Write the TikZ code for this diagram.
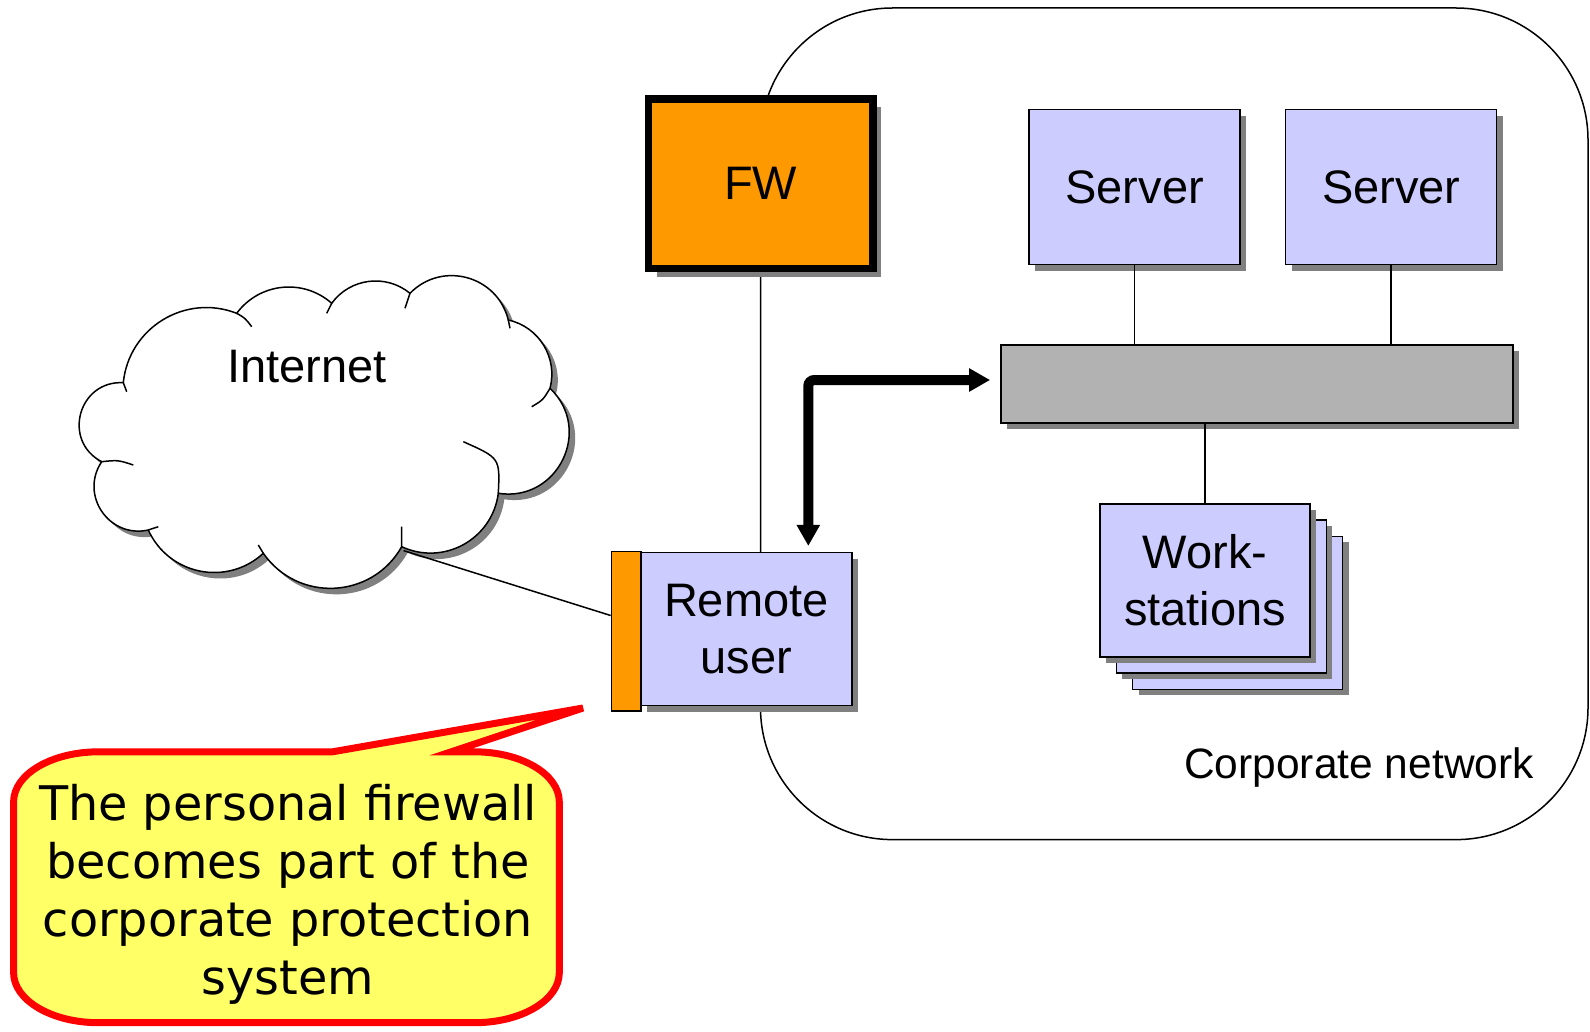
\documentclass[tikz,border=0pt]{standalone}
\usepackage{fontspec}
\setmainfont{Liberation Sans}
\newfontfamily\callfont{DejaVu Sans}
\usetikzlibrary{shadows,arrows.meta,calc}
\definecolor{boxblue}{HTML}{CCCCFF}
\definecolor{fworange}{HTML}{FF9900}
\definecolor{bargray}{HTML}{B2B2B2}
\definecolor{shadowgray}{HTML}{808080}
\definecolor{callyellow}{HTML}{FFFF66}
\definecolor{callred}{HTML}{FF0000}
\begin{document}
\begin{tikzpicture}[x=1pt,y=-1pt,
  thinline/.style={line width=1.5pt},
  shad/.style={drop shadow={shadow xshift=6pt,shadow yshift=-6pt,fill=shadowgray,opacity=1}},
  bigshad/.style={drop shadow={shadow xshift=8.5pt,shadow yshift=-8.5pt,fill=shadowgray,opacity=1}},
  lbl/.style={font=\fontsize{47}{57}\selectfont, align=center},
  bluebox/.style={draw, thinline, fill=boxblue, shad, minimum width=211pt, minimum height=153pt, inner sep=0pt, lbl},
  bigarrow/.style={line width=10pt, {Triangle[length=21pt,width=22pt]}-{Triangle[length=21pt,width=22pt]}, rounded corners=6pt},
  link/.style={thinline}
]
\fill[white] (0,0) rectangle (1590,1032);
\useasboundingbox (0,0) rectangle (1590,1032);

% corporate network outline
\node[draw, thinline, rounded corners=132pt, minimum width=827.5pt, minimum height=831.6pt, inner sep=0pt] (corp) at (1174.25,423.8) {};
\node[font=\fontsize{42.5}{50}\selectfont] (corplabel) at (1359,767.6) {Corporate network};

% Internet cloud
\path[draw, thinline, fill=white, shad]
  (101.7,461.7) .. controls (61.8,440.9) and (78.4,380.3) .. (123.3,382.7)
  .. controls (128.8,327.8) and (185.2,293.2) .. (236.7,313.3)
  .. controls (259.4,282.7) and (303.2,278.1) .. (331.7,303.3)
  .. controls (350.1,278.1) and (385.8,273.5) .. (410,293.3)
  .. controls (441.9,260.5) and (497.4,275.6) .. (508.3,320)
  .. controls (539.1,326.8) and (558,357.9) .. (550,388.3)
  .. controls (593.5,429.7) and (557.6,502.5) .. (498.3,493.3)
  .. controls (492.4,539.2) and (443.8,566.2) .. (401.7,546.7)
  .. controls (372.1,599.2) and (297.9,602.8) .. (263.3,553.3)
  .. controls (227,586.8) and (168.6,574.9) .. (148.3,530)
  .. controls (109.1,538.7) and (79.3,495) .. cycle;
\draw[thinline]
  (123.3,382.7) -- (126.7,391.7)
  (236.7,313.3) .. controls (245,318) .. (251.7,326.7)
  (331.7,303.3) -- (326.7,313.3)
  (410,293.3) -- (405,308.3)
  (508.3,320) -- (510,328.3)
  (550,388.3) .. controls (543,400) .. (531.7,406.7)
  (498.3,493.3) .. controls (500,458) .. (463.3,441.7)
  (401.7,546.7) -- (401.7,526.7)
  (263.3,553.3) -- (258.3,545)
  (148.3,530) -- (158.3,526.7)
  (101.7,461.7) .. controls (118,460) .. (133.3,465);
\node[lbl] (inet) at (307,366.5) {Internet};
\coordinate (cloudlink) at (403.6,550.6);

% firewall
\node[draw, line width=7.5pt, fill=fworange, bigshad, minimum width=224.2pt, minimum height=169.8pt, inner sep=0pt, lbl] (fw) at (760.8,183.7) {FW};

% servers and bar
\node[bluebox, minimum height=155pt] (s1) at (1134.7,187.1) {Server};
\node[bluebox, minimum height=155pt] (s2) at (1391.2,187.1) {Server};
\node[draw, thinline, fill=bargray, shad, minimum width=512pt, minimum height=78pt, inner sep=0pt] (bar) at (1256.9,383.8) {};
\draw[link] (s1.south) -- (s1.south |- bar.north);
\draw[link] (s2.south) -- (s2.south |- bar.north);

% workstations
\node[bluebox, minimum width=210pt] (ws3) at (1237.6,612.9) {};
\node[bluebox, minimum width=210pt] (ws2) at (1221.4,596.7) {};
\node[bluebox, minimum width=210pt] (ws) at (1205.2,580.5) {Work-\\stations};
\draw[link] (ws.north) -- (ws.north |- bar.south);

% remote user
\node[bluebox] (ru) at (746.3,629.2) {Remote\\user};
\node[draw, thinline, fill=fworange, minimum width=29.4pt, minimum height=159.2pt, inner sep=0pt] (ro) at (626.1,631.2) {};
\draw[link] (cloudlink) -- ([yshift=15.7pt]ro.west);

% thick double arrow
\draw[bigarrow, shorten <=6pt, shorten >=10pt] ([xshift=62pt]ru.north) |- ([yshift=3.8pt]bar.west);

% callout
\path[draw=callred, fill=callyellow, line width=7pt, line join=miter]
  (332.6,751.8) -- (583,708) -- (451.2,751.8) -- (474.3,751.8)
  .. controls (521.2,751.8) and (559.3,774.2) .. (559.3,801.8)
  -- (559.3,972.7)
  .. controls (559.3,1000.3) and (521.2,1022.7) .. (474.3,1022.7)
  -- (98.6,1022.7)
  .. controls (51.7,1022.7) and (13.6,1000.3) .. (13.6,972.7)
  -- (13.6,801.8)
  .. controls (13.6,774.2) and (51.7,751.8) .. (98.6,751.8)
  -- cycle;
\node[font=\callfont\fontsize{47.7}{58}\selectfont, align=center] (calltext) at (288,894)
  {The personal firewall\\becomes part of the\\corporate protection\\system};
\end{tikzpicture}
\end{document}
